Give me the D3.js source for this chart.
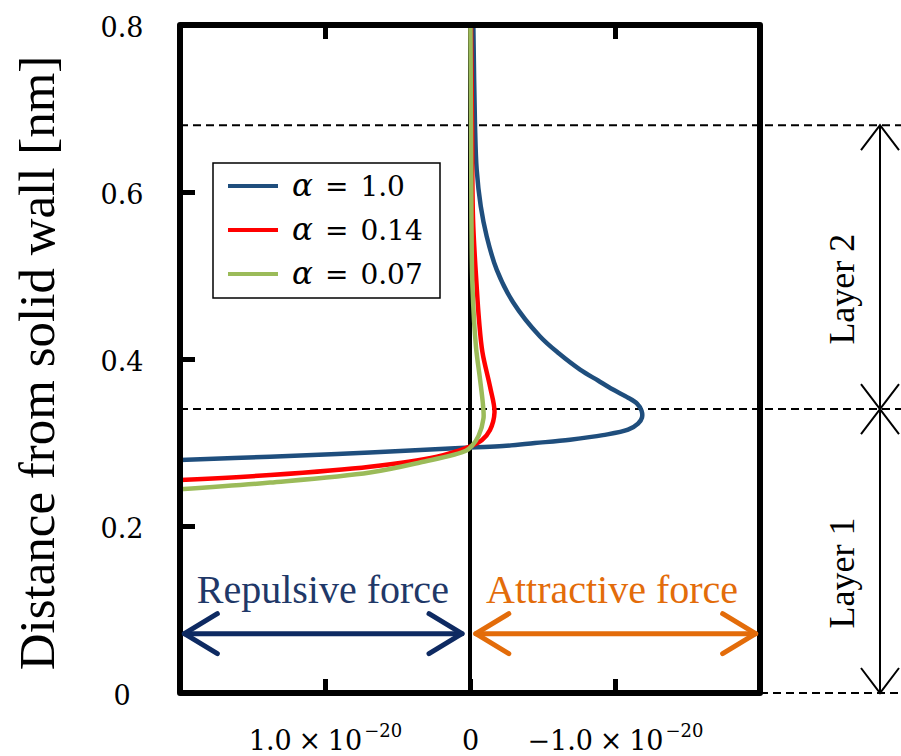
<!DOCTYPE html>
<html>
<head>
<meta charset="utf-8">
<script src="https://cdn.jsdelivr.net/npm/d3@7"></script>
<style>
  html, body { margin: 0; padding: 0; background: #fff; }
  svg { display: block; }
</style>
</head>
<body>
<svg id="chart" width="901" height="756"></svg>
<script>
// Force per molecule in units of 1e-20 N (positive = repulsive, drawn to the left)
// paired with distance from the solid wall in nm.
const seriesNames = ["1.0", "0.14", "0.07"];
const seriesColors = ["#1F4E7D", "#FF0000", "#9BBB59"];

const forceAlpha100 = [-0.023, -0.034, -0.046, -0.074, -0.115, -0.184, -0.297, -0.483, -0.614, -0.759, -0.883, -0.986, -1.083, -1.152, -1.183, -1.186, -1.159, -1.090, -0.917, -0.690, -0.448, -0.228, 0, 0.690, 1.379, 2.0];
const distAlpha100  = [0.800, 0.684, 0.627, 0.583, 0.547, 0.507, 0.468, 0.427, 0.4066, 0.3874, 0.3742, 0.3634, 0.3544, 0.3466, 0.3382, 0.3298, 0.3226, 0.3154, 0.3088, 0.3034, 0.2993, 0.2957, 0.2939, 0.288, 0.283, 0.279];

const forceAlpha014 = [-0.007, -0.014, -0.021, -0.046, -0.062, -0.086, -0.138, -0.169, -0.138, -0.083, 0, 0.103, 0.228, 0.690, 1.379, 2.0];
const distAlpha014  = [0.800, 0.681, 0.567, 0.487, 0.447, 0.408, 0.367, 0.336, 0.315, 0.303, 0.295, 0.289, 0.283, 0.271, 0.261, 0.255];

const forceAlpha007 = [-0.003, -0.007, -0.010, -0.017, -0.041, -0.069, -0.090, -0.093, -0.059, -0.014, 0.028, 0.345, 0.690, 1.379, 2.0];
const distAlpha007  = [0.800, 0.680, 0.567, 0.487, 0.415, 0.376, 0.344, 0.329, 0.308, 0.296, 0.290, 0.276, 0.264, 0.252, 0.244];

const yTickValues = [0, 0.2, 0.4, 0.6, 0.8];
const yTickLabels = ["0", "0.2", "0.4", "0.6", "0.8"];
const xTickValues = [1, 0, -1];
const xTickMantissa = ["1.0\u2005×\u200510", "0", "−1.0\u2005×\u200510"];
const xTickExponent = ["−20", "", "−20"];

const layerBounds = [0, 0.34, 0.68];
const layerNames = ["Layer 1", "Layer 2"];

const svg = d3.select("#chart");
const W = 901;

const plot = { left: 180, right: 760, top: 25, bottom: 693 };
const x = d3.scaleLinear().domain([2, -2]).range([plot.left, plot.right]);
const y = d3.scaleLinear().domain([0, 0.8]).range([plot.bottom, plot.top]);

const serif = "'Liberation Serif', 'Times New Roman', serif";
const mathFont = "'DejaVu Serif', serif";

svg.append("rect").attr("width", W).attr("height", 756).attr("fill", "#fff");

// Dashed layer boundaries
layerBounds.forEach(v => {
  svg.append("line")
    .attr("x1", v === 0 ? plot.right : plot.left)
    .attr("x2", W)
    .attr("y1", y(v)).attr("y2", y(v))
    .attr("stroke", "#000").attr("stroke-width", 2)
    .attr("stroke-dasharray", "8,5");
});

// Zero-force line
svg.append("line")
  .attr("x1", x(0)).attr("x2", x(0))
  .attr("y1", plot.top).attr("y2", plot.bottom)
  .attr("stroke", "#000").attr("stroke-width", 4);

// Inward tick marks
const leftAxis = svg.append("g").attr("transform", `translate(${plot.left},0)`)
  .call(d3.axisLeft(y).tickValues([0.2, 0.4, 0.6]).tickSizeInner(-15).tickSizeOuter(0).tickFormat(""));
const topAxis = svg.append("g").attr("transform", `translate(0,${plot.top})`)
  .call(d3.axisTop(x).tickValues(xTickValues).tickSizeInner(-14).tickSizeOuter(0).tickFormat(""));
const bottomAxis = svg.append("g").attr("transform", `translate(0,${plot.bottom})`)
  .call(d3.axisBottom(x).tickValues(xTickValues).tickSizeInner(-14).tickSizeOuter(0).tickFormat(""));
[leftAxis, topAxis, bottomAxis].forEach(g => {
  g.select(".domain").remove();
  g.selectAll(".tick line").attr("stroke", "#000").attr("stroke-width", 5);
});

// Y tick labels
const yLabels = svg.append("g").attr("transform", `translate(${plot.left},0)`)
  .call(d3.axisLeft(y).tickValues(yTickValues).tickSize(0).tickPadding(58)
    .tickFormat((d, i) => yTickLabels[i]));
yLabels.select(".domain").remove();
yLabels.attr("font-size", null).attr("font-family", null);
yLabels.selectAll(".tick text")
  .attr("text-anchor", "middle")
  .attr("dy", "0.42em")
  .style("font-family", mathFont)
  .style("font-size", "27px")
  .attr("fill", "#000");

// X tick labels with superscript exponent
const xLabels = svg.append("g").attr("transform", `translate(0,${plot.bottom})`)
  .call(d3.axisBottom(x).tickValues(xTickValues).tickSize(0).tickPadding(0).tickFormat(""));
xLabels.select(".domain").remove();
xLabels.attr("font-size", null).attr("font-family", null);
xLabels.selectAll(".tick text").each(function(d, i) {
  const t = d3.select(this)
    .attr("y", 57).attr("dy", null)
    .attr("text-anchor", "middle")
    .style("font-family", mathFont)
    .style("font-size", "27px")
    .attr("fill", "#000");
  t.text(null);
  t.append("tspan").text(xTickMantissa[i]);
  if (xTickExponent[i]) {
    t.append("tspan").attr("dy", -13).style("font-size", "18px").attr("dx", 2).text(xTickExponent[i]);
  }
});

// Curves
svg.append("clipPath").attr("id", "plotClip")
  .append("rect").attr("x", plot.left).attr("y", plot.top)
  .attr("width", plot.right - plot.left).attr("height", plot.bottom - plot.top);

const series = [
  d3.zip(forceAlpha100, distAlpha100),
  d3.zip(forceAlpha014, distAlpha014),
  d3.zip(forceAlpha007, distAlpha007)
];
const line = d3.line()
  .x(d => x(d[0])).y(d => y(d[1]))
  .curve(d3.curveCatmullRom.alpha(0.5));

svg.append("g").attr("clip-path", "url(#plotClip)")
  .selectAll("path").data(series).join("path")
  .attr("d", line)
  .attr("fill", "none")
  .attr("stroke", (d, i) => seriesColors[i])
  .attr("stroke-width", 4.5)
  .attr("stroke-linejoin", "round");

// Plot frame
svg.append("rect")
  .attr("x", plot.left).attr("y", plot.top)
  .attr("width", plot.right - plot.left).attr("height", plot.bottom - plot.top)
  .attr("fill", "none").attr("stroke", "#000").attr("stroke-width", 6)
  .attr("stroke-linejoin", "round");

// Legend
const legend = svg.append("g").attr("transform", "translate(213,163)");
legend.append("rect").attr("width", 227).attr("height", 135)
  .attr("fill", "#fff").attr("stroke", "#000").attr("stroke-width", 1.5);
seriesNames.forEach((name, i) => {
  const cy = 23 + i * 44;
  legend.append("line")
    .attr("x1", 15).attr("x2", 65).attr("y1", cy).attr("y2", cy)
    .attr("stroke", seriesColors[i]).attr("stroke-width", 4);
  const t = legend.append("text")
    .attr("x", 79).attr("y", cy + 10)
    .attr("font-family", mathFont).attr("font-size", 28).attr("fill", "#000");
  t.append("tspan").attr("font-style", "italic").style("font-size", "31px").text("α");
  t.append("tspan").attr("dx", 12).text("=");
  t.append("tspan").attr("dx", 12).text(name);
});

// Force direction arrows
function doubleArrow(x1, x2, yy, color) {
  const g = svg.append("g")
    .attr("stroke", color).attr("stroke-width", 5)
    .attr("fill", "none").attr("stroke-linecap", "round").attr("stroke-linejoin", "round");
  g.append("line").attr("x1", x1).attr("x2", x2).attr("y1", yy).attr("y2", yy);
  g.append("polyline").attr("points", `${x1 + 33},${yy - 20} ${x1},${yy} ${x1 + 33},${yy + 20}`);
  g.append("polyline").attr("points", `${x2 - 33},${yy - 20} ${x2},${yy} ${x2 - 33},${yy + 20}`);
}
const arrowY = y(0.071);
doubleArrow(x(1.97), x(0.055), arrowY, "#0E2A62");
doubleArrow(x(-0.04), x(-1.97), arrowY, "#E36C0A");

svg.append("text")
  .attr("x", x(1.015)).attr("y", arrowY - 31)
  .attr("text-anchor", "middle")
  .attr("font-family", serif).attr("font-size", 40).attr("fill", "#1F3868")
  .text("Repulsive force");
svg.append("text")
  .attr("x", x(-0.98)).attr("y", arrowY - 31)
  .attr("text-anchor", "middle")
  .attr("font-family", serif).attr("font-size", 40).attr("fill", "#E36C0A")
  .text("Attractive force");

// Layer dimension arrows on the right
const dimX = 880;
const dim = svg.append("g").attr("stroke", "#000").attr("stroke-width", 2).attr("fill", "none");
dim.append("line").attr("x1", dimX).attr("x2", dimX).attr("y1", y(layerBounds[2])).attr("y2", y(layerBounds[0]));
function chevron(yy, dir) {
  dim.append("polyline")
    .attr("points", `${dimX - 19},${yy + dir * 25} ${dimX},${yy} ${dimX + 19},${yy + dir * 25}`);
}
chevron(y(layerBounds[2]), 1);
chevron(y(layerBounds[1]), -1);
chevron(y(layerBounds[1]), 1);
chevron(y(layerBounds[0]), -1);

layerNames.forEach((name, i) => {
  const mid = y((layerBounds[i] + layerBounds[i + 1]) / 2) + 22;
  svg.append("text")
    .attr("transform", `translate(854,${mid}) rotate(-90)`)
    .attr("text-anchor", "middle")
    .attr("font-family", serif).attr("font-size", 36).attr("fill", "#000")
    .text(name);
});

// Y axis title
svg.append("text")
  .attr("transform", `translate(54,363) rotate(-90)`)
  .attr("text-anchor", "middle")
  .attr("font-family", serif).attr("font-size", 51).attr("fill", "#000")
  .text("Distance from solid wall [nm]");
</script>
</body>
</html>
